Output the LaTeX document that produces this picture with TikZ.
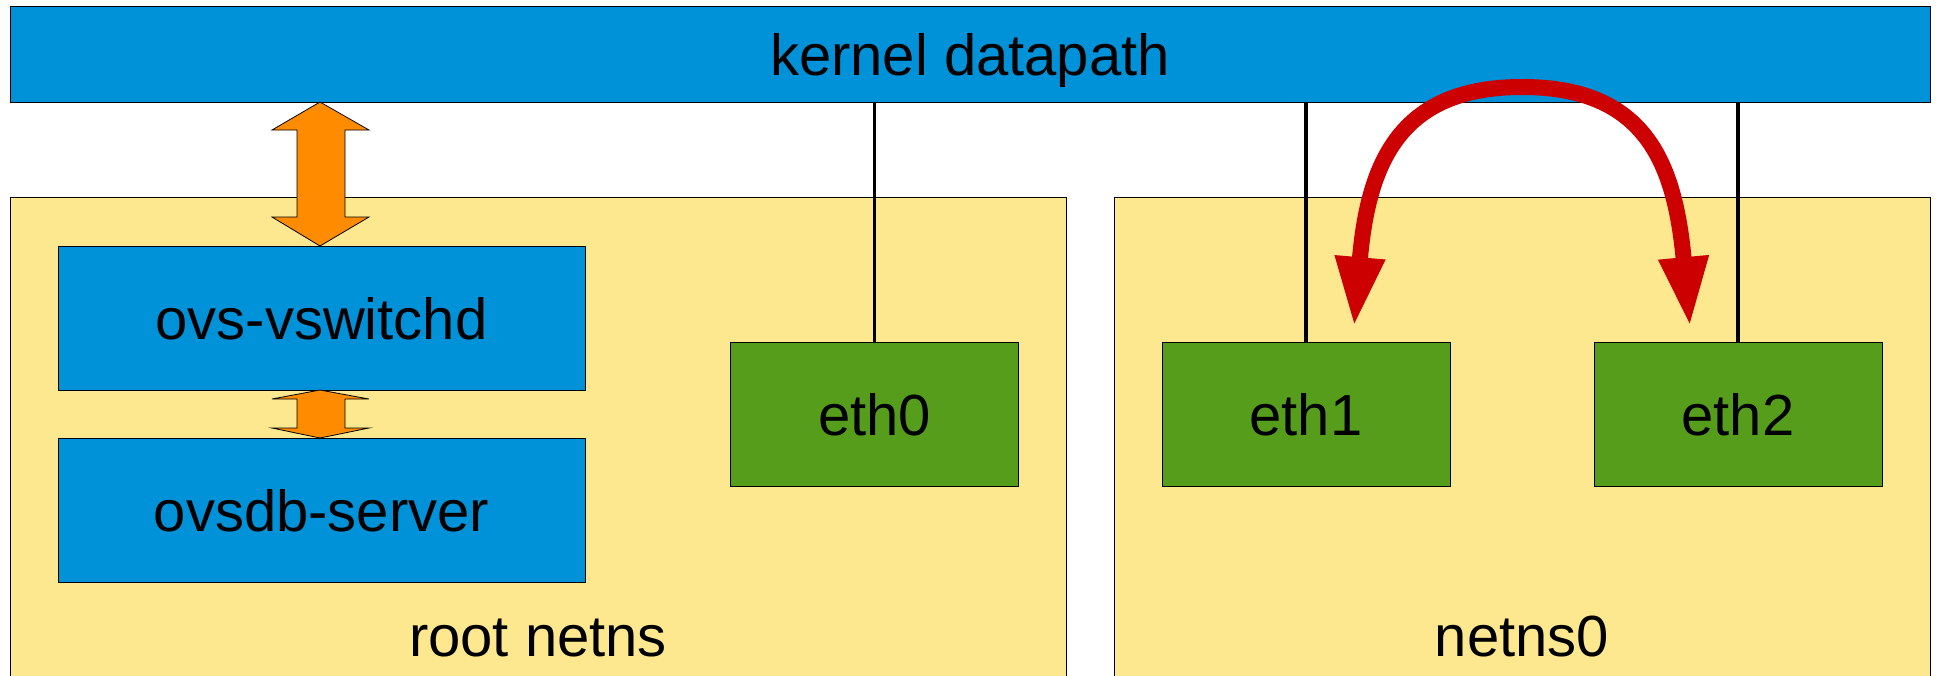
\documentclass[tikz,border=0pt]{standalone}
\usepackage{fontspec}
\setmainfont{Liberation Sans}
\usetikzlibrary{arrows.meta,calc}
\definecolor{kblue}{RGB}{0,146,217}
\definecolor{nsyellow}{RGB}{253,232,143}
\definecolor{ethgreen}{RGB}{87,157,28}
\definecolor{arrorange}{RGB}{255,140,0}
\definecolor{arrred}{RGB}{204,0,0}
\begin{document}
\begin{tikzpicture}[x=1pt,y=-1pt,
  box/.style={draw=black,line width=0.8pt,inner sep=0pt,outer sep=0pt,text depth=0pt,font=\fontsize{58}{68}\selectfont},
  bluebox/.style={box,fill=kblue},
  greenbox/.style={box,fill=ethgreen,minimum width=288pt,minimum height=144pt},
  nsbox/.style={draw=black,line width=0.8pt,fill=nsyellow},
  link/.style={line width=3.4pt,draw=black},
  dblarrow/.style={draw=black,line width=0.8pt,fill=arrorange},
  swap/.style={draw=arrred,line width=16pt},
  lbl/.style={font=\fontsize{58}{68}\selectfont,anchor=base,inner sep=0pt}
]
\useasboundingbox (0,0) rectangle (1939,675);
\clip (0,0) rectangle (1939,675);
% namespaces
\draw[nsbox] (10,197) rectangle (1066,700);
\draw[nsbox] (1114,197) rectangle (1930,700);
\node[lbl] (rootlbl) at (538,656) {root netns};
\node[lbl] (nslbl) at (1522,656) {netns0};
% kernel
\node[bluebox,minimum width=1920pt,minimum height=96pt] (kd) at (970,54) {kernel datapath};
% daemons
\node[bluebox,minimum width=527pt,minimum height=144pt] (vsw) at (321.5,318) {ovs-vswitchd};
\node[bluebox,minimum width=527pt,minimum height=144pt] (db) at (321.5,510) {ovsdb-server};
% interfaces
\node[greenbox] (eth0) at (874.5,414) {eth0};
\node[greenbox] (eth1) at (1306,414) {eth1};
\node[greenbox] (eth2) at (1738,414) {eth2};
% links
\draw[link] (eth0.north) -- (eth0.north |- kd.south);
\draw[link] (eth1.north) -- (eth1.north |- kd.south);
\draw[link] (eth2.north) -- (eth2.north |- kd.south);
% orange double arrows
\draw[dblarrow] (320,102) -- (369,130) -- (345,130) -- (345,217) -- (369,217) -- (320,246)
  -- (272,217) -- (297,217) -- (297,130) -- (272,130) -- cycle;
\draw[dblarrow] (320,390) -- (369,399) -- (345,399) -- (345,428) -- (369,428) -- (320,438)
  -- (272,428) -- (297,428) -- (297,399) -- (272,399) -- cycle;
% red swap arrow
\coordinate (lt) at (1354,327);
\coordinate (rt) at (1690,327);
\coordinate (top) at (1522,87);
\draw[swap,{Triangle[length=70pt,width=46pt]}-{Triangle[length=70pt,width=46pt]}]
  (lt) .. controls (1368,165) and (1398,87) .. (top) .. controls (1647,87) and (1675,165) .. (rt);
\end{tikzpicture}
\end{document}
